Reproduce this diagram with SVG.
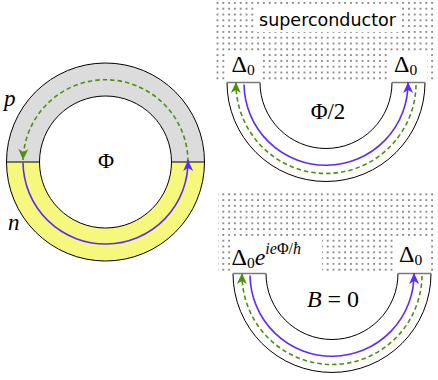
<svg xmlns="http://www.w3.org/2000/svg" width="438" height="380" viewBox="0 0 438 380">
<style>
.outline{stroke:#000;stroke-width:1;}
.blue{fill:none;stroke:#5a2dff;stroke-width:1.6;}
.green{fill:none;stroke:#4f8f0f;stroke-width:1.6;stroke-dasharray:4.5 3;}
.math{font-family:"Liberation Serif","DejaVu Serif",serif;fill:#000;}
.it{font-style:italic;}
.sans{font-family:"DejaVu Sans","Liberation Sans",sans-serif;fill:#000;}
.edge{stroke:#7a7a7a;stroke-width:1.6;}
</style>
<defs>
<pattern id="dots" patternUnits="userSpaceOnUse" x="0" y="0" width="5.8" height="5.8">
<circle cx="2.9" cy="2.9" r="0.8" fill="#000"/>
</pattern>
<marker id="ab" viewBox="-12 -6 13 12" refX="0" refY="0" markerWidth="13" markerHeight="12" markerUnits="userSpaceOnUse" orient="auto">
<path d="M0 0 L-11 -5 L-8 0 L-11 5 Z" fill="#5a2dff"/>
</marker>
<marker id="ag" viewBox="-12 -6 13 12" refX="0" refY="0" markerWidth="13" markerHeight="12" markerUnits="userSpaceOnUse" orient="auto">
<path d="M0 0 L-11 -5 L-8 0 L-11 5 Z" fill="#4f8f0f"/>
</marker>
</defs>

<g id="ring">
<path d="M6.5 162 A99 99 0 0 1 204.5 162 L171.5 162 A66 66 0 0 0 39.5 162 Z" fill="#dcdcdc"/>
<path d="M6.5 162 A99 99 0 0 0 204.5 162 L171.5 162 A66 66 0 0 1 39.5 162 Z" fill="#f6f77d"/>
<circle cx="105.5" cy="162" r="99" fill="none" class="outline"/>
<circle cx="105.5" cy="162" r="66" fill="none" class="outline"/>
<line x1="6.5" y1="162" x2="39.5" y2="162" class="outline"/>
<line x1="171.5" y1="162" x2="204.5" y2="162" class="outline"/>
<text x="106" y="168" class="math" font-size="22" text-anchor="middle">Φ</text>
<text x="4" y="106" class="math it" font-size="23">p</text>
<text x="8" y="230" class="math it" font-size="23">n</text>
</g>

<g id="top-panel">
<rect x="213" y="0" width="224" height="82" fill="url(#dots)"/>
<rect x="255" y="7" width="146" height="25" fill="#fff"/>
<rect x="226" y="52" width="35" height="30" fill="#fff"/>
<rect x="390" y="52" width="37" height="30" fill="#fff"/>
<text x="327.5" y="26" class="sans" font-size="17.5" text-anchor="middle">superconductor</text>
<text x="231.5" y="72" class="math" font-size="24">Δ<tspan font-size="15.5" dy="3">0</tspan></text>
<text x="394" y="72" class="math" font-size="24">Δ<tspan font-size="15.5" dy="3">0</tspan></text>
<path d="M227 82.5 A99 99 0 0 0 425 82.5 L392 82.5 A66 66 0 0 1 260 82.5 Z" fill="#fff" class="outline"/>
<line x1="227" y1="82.5" x2="260" y2="82.5" class="edge"/>
<line x1="392" y1="82.5" x2="425" y2="82.5" class="edge"/>
<text x="328" y="119" class="math" font-size="23" text-anchor="middle">Φ/2</text>
</g>

<g id="bottom-panel">
<rect x="218" y="193" width="215" height="80" fill="url(#dots)"/>
<rect x="230" y="238" width="92" height="35" fill="#fff"/>
<rect x="394" y="238" width="36" height="35" fill="#fff"/>
<text x="231.5" y="265" class="math" font-size="24">Δ<tspan font-size="15.5" dy="3">0</tspan><tspan class="it" font-size="24" dy="-3">e</tspan><tspan font-size="16" dy="-11"><tspan class="it">ie</tspan>Φ/<tspan class="it">ħ</tspan></tspan></text>
<text x="399" y="262" class="math" font-size="24">Δ<tspan font-size="15.5" dy="3">0</tspan></text>
<path d="M233 273.5 A99 99 0 0 0 431 273.5 L398 273.5 A66 66 0 0 1 266 273.5 Z" fill="#fff" class="outline"/>
<line x1="233" y1="273.5" x2="266" y2="273.5" class="edge"/>
<line x1="398" y1="273.5" x2="431" y2="273.5" class="edge"/>
<text x="333" y="307" class="math" font-size="24" text-anchor="middle"><tspan class="it">B</tspan> = 0</text>
</g>

<g id="connectors">
<path d="M188 162 A82.5 82.5 0 0 0 23.03 160" class="green" marker-end="url(#ag)"/>
<path d="M23 162.5 A82.5 82.5 0 1 0 187.98 160" class="blue" marker-end="url(#ab)"/>
<path d="M244 84.5 A82 82 0 0 0 408 82" class="blue" marker-end="url(#ab)"/>
<path d="M416 85 A90 90 0 0 1 236 82" class="green" marker-end="url(#ag)"/>
<path d="M250 275.5 A82 82 0 0 0 414 273" class="blue" marker-end="url(#ab)"/>
<path d="M422 276 A90 90 0 0 1 242 273" class="green" marker-end="url(#ag)"/>
</g>
</svg>
